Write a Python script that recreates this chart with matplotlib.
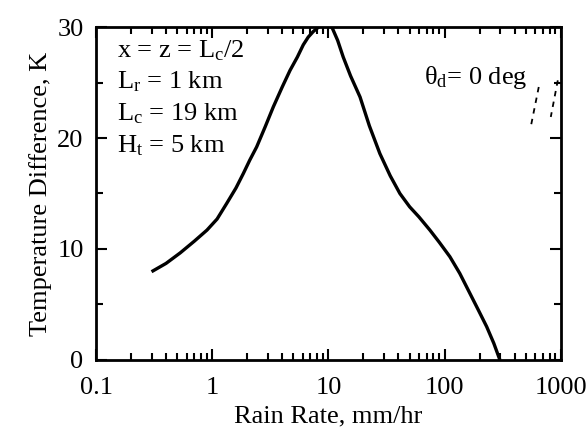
import numpy as np
import matplotlib
matplotlib.use("Agg")
import matplotlib.pyplot as plt
from matplotlib.ticker import FixedLocator, FixedFormatter, LogLocator, NullFormatter

plt.rcParams["font.family"] = ["Liberation Serif", "DejaVu Serif"]
plt.rcParams["mathtext.fontset"] = "custom"
plt.rcParams["mathtext.rm"] = "Liberation Serif"
plt.rcParams["mathtext.it"] = "Liberation Serif:italic"

# main curve: temperature difference vs rain rate (theta_d = 0 deg)
rain_rate = [0.30, 0.40, 0.53, 0.70, 0.90, 1.10, 1.33, 1.60, 1.85, 2.1, 2.41, 2.85,
             3.35, 4.0, 4.67, 5.4, 6.07, 6.7, 7.4, 8.45, 9.5, 10.7, 12.0, 13.4,
             15.5, 18.7, 22.5, 27.7, 34.0, 41.2, 50.0, 60.0, 74.7, 90.0, 111.0,
             135.0, 165.0, 195.0, 230.0, 265.0, 299.0]
temp_diff = [7.95, 8.7, 9.65, 10.7, 11.7, 12.7, 14.1, 15.5, 16.8, 18.0, 19.2, 21.0,
             22.8, 24.6, 26.1, 27.3, 28.4, 29.1, 29.6, 30.1, 30.2, 30.0, 28.8, 27.3,
             25.6, 23.7, 21.1, 18.6, 16.6, 15.0, 13.8, 12.9, 11.7, 10.6, 9.3,
             7.8, 6.0, 4.5, 3.0, 1.5, 0.0]

# short dashed fragments near the right edge
dash_a_rate = [646, 551]
dash_a_temp = [24.6, 21.0]
dash_b_rate = [942, 820]
dash_b_temp = [25.2, 21.9]

x_ticks = [0.1, 1, 10, 100, 1000]
x_labels = ["0.1", "1", "10", "100", "1000"]
y_ticks = [0, 10, 20, 30]

fig = plt.figure(figsize=(5.86, 4.30), dpi=100)
ax = fig.add_axes([0.164, 0.163, 0.793, 0.774])

ax.plot(rain_rate, temp_diff, color="black", linewidth=2.4,
        solid_joinstyle="round", solid_capstyle="butt")
ax.plot(dash_a_rate, dash_a_temp, color="black", linewidth=1.3, linestyle=(0, (3, 3)))
ax.plot(dash_b_rate, dash_b_temp, color="black", linewidth=1.3, linestyle=(0, (3, 3)))

ax.set_xscale("log")
ax.set_xlim(0.1, 1000)
ax.set_ylim(0, 30)

ax.xaxis.set_major_locator(FixedLocator(x_ticks))
ax.xaxis.set_major_formatter(FixedFormatter(x_labels))
ax.xaxis.set_minor_locator(LogLocator(base=10, subs=np.arange(2, 10)))
ax.xaxis.set_minor_formatter(NullFormatter())
ax.yaxis.set_major_locator(FixedLocator(y_ticks))
ax.yaxis.set_minor_locator(FixedLocator([5, 15, 25]))

ax.tick_params(which="both", direction="in", top=True, right=True, labelsize=19, width=1.5)
ax.tick_params(which="major", length=8, pad=9)
ax.tick_params(which="minor", length=5)
ax.tick_params(axis="x", which="major", pad=12)
for sp in ax.spines.values():
    sp.set_linewidth(2)

ax.set_xlabel("Rain Rate, mm/hr", fontsize=19, labelpad=5)
ax.set_ylabel("Temperature Difference, K", fontsize=19, labelpad=4)

params = [r"x = z = L$_{\mathrm{c}}$/2", r"L$_{\mathrm{r}}$ = 1 km",
          r"L$_{\mathrm{c}}$ = 19 km", r"H$_{\mathrm{t}}$ = 5 km"]
for i, s in enumerate(params):
    ax.text(0.045, 0.93 - i * 0.095, s, transform=ax.transAxes, fontsize=19,
            ha="left", va="center")
ax.text(0.705, 0.85, "θ$_{\\mathrm{d}}$= 0 deg", transform=ax.transAxes,
        fontsize=19, ha="left", va="center")

fig.savefig("out.png", dpi=100)
